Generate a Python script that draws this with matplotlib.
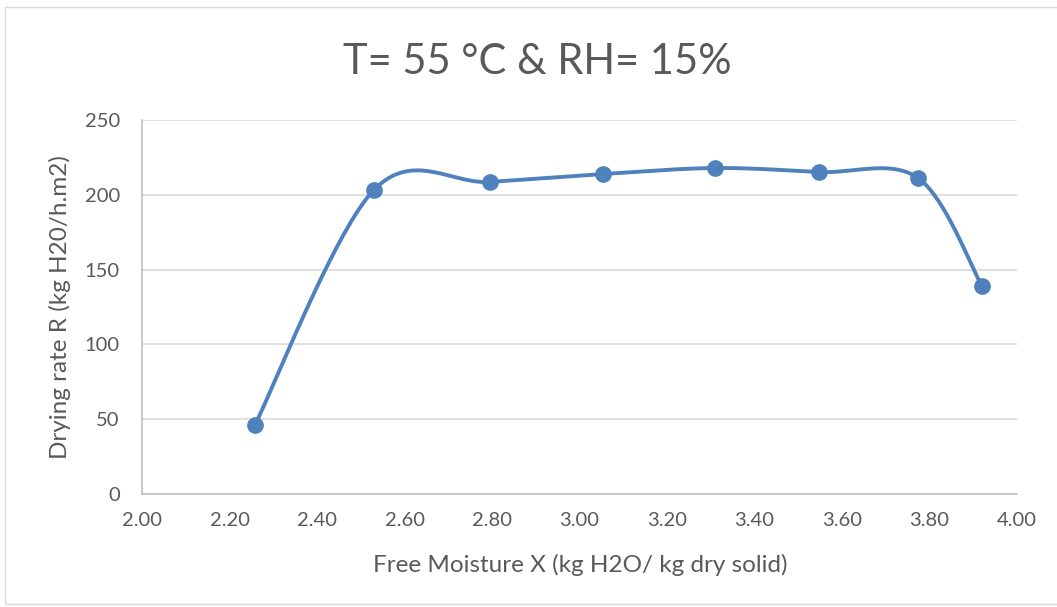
import matplotlib.pyplot as plt
import numpy as np
from matplotlib.patches import Rectangle

plt.rcParams['font.family'] = ['Lato', 'DejaVu Sans']

moisture = [2.258, 2.530, 2.795, 3.054, 3.310, 3.547, 3.774, 3.920]
rate = [46.1, 203.2, 208.6, 213.9, 217.9, 215.2, 211.2, 139.0]
x_ticks = [2.00, 2.20, 2.40, 2.60, 2.80, 3.00, 3.20, 3.40, 3.60, 3.80, 4.00]
y_ticks = [0, 50, 100, 150, 200, 250]

grey_text = '#595959'
blue = '#4f81bd'

W, H = 1057, 607
fig = plt.figure(figsize=(W / 100, H / 100), dpi=100)
fig.patches.append(Rectangle((5 / W, 3 / H), 1.2, 1 - 10 / H, transform=fig.transFigure,
                             fill=False, edgecolor='#d9d9d9', lw=1))

ax = fig.add_axes([142 / W, 1 - 494 / H, 875 / W, 374 / H])
ax.set_xlim(2, 4)
ax.set_ylim(0, 250)
ax.set_xticks(x_ticks)
ax.set_xticklabels(['%.2f' % v for v in x_ticks])
ax.set_yticks(y_ticks)
ax.tick_params(length=0, labelsize=14.5, colors=grey_text)
ax.tick_params(axis='x', pad=13)
ax.tick_params(axis='y', pad=16)
ax.yaxis.grid(True, color='#d9d9d9', lw=1.2)
ax.set_axisbelow(True)
for s in ['top', 'right']:
    ax.spines[s].set_visible(False)
for s in ['left', 'bottom']:
    ax.spines[s].set_color('#bfbfbf')
    ax.spines[s].set_linewidth(1.2)

# Excel-like smoothed line (Bezier, tension 1/6) in display space
pts = ax.transData.transform(np.column_stack([moisture, rate]))
curve = []
n = len(pts)
for i in range(n - 1):
    p0 = pts[max(i - 1, 0)]
    p1 = pts[i]
    p2 = pts[i + 1]
    p3 = pts[min(i + 2, n - 1)]
    c1 = p1 + (p2 - p0) / 6
    c2 = p2 - (p3 - p1) / 6
    t = np.linspace(0, 1, 40)[:, None]
    seg = (1 - t) ** 3 * p1 + 3 * (1 - t) ** 2 * t * c1 + 3 * (1 - t) * t ** 2 * c2 + t ** 3 * p2
    curve.append(seg)
curve = ax.transData.inverted().transform(np.vstack(curve))
ax.plot(curve[:, 0], curve[:, 1], color=blue, lw=2.8, solid_capstyle='round', zorder=3)
ax.plot(moisture, rate, 'o', color=blue, ms=11, zorder=4)

fig.text(537 / W, 1 - 62 / H, 'T= 55 °C & RH= 15%', ha='center', va='center',
         fontsize=30, color=grey_text)
ax.set_xlabel('Free Moisture X (kg H2O/ kg dry solid)', fontsize=17.5, color=grey_text,
              va='center')
ax.set_ylabel('Drying rate R (kg H20/h.m2)', fontsize=17.5, color=grey_text, va='center')
ax.xaxis.set_label_coords((580 - 142) / 875, (494 - 565) / 374)
ax.yaxis.set_label_coords((60 - 142) / 875, (494 - 307) / 374)

fig.savefig('out.png', dpi=100)
